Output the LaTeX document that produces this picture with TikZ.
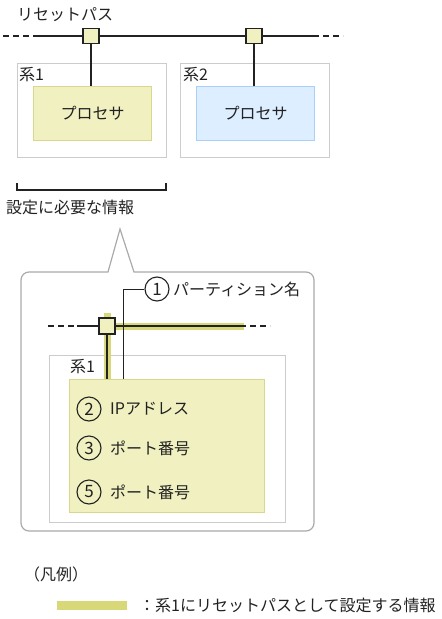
\documentclass[tikz,border=0pt]{standalone}
\usepackage{fontspec}
\setmainfont{Noto Sans CJK JP}
\definecolor{ybox}{RGB}{240,240,192}
\definecolor{yedge}{RGB}{216,216,140}
\definecolor{yline}{RGB}{216,216,120}
\definecolor{bbox}{RGB}{220,238,255}
\definecolor{bedge}{RGB}{168,208,248}
\definecolor{gedge}{RGB}{204,204,204}
\definecolor{cedge}{RGB}{170,170,170}
\definecolor{ink}{RGB}{34,34,34}
\begin{document}
\begin{tikzpicture}[x=1pt,y=-1pt,
  font=\fontsize{16}{19}\selectfont,
  every node/.style={text=ink},
  sysbox/.style={draw=gedge, line width=1.2pt, fill=white, anchor=north west, inner sep=0pt},
  procY/.style={draw=yedge, fill=ybox, line width=1pt, anchor=north west, inner sep=0pt},
  procB/.style={draw=bedge, fill=bbox, line width=1pt, anchor=north west, inner sep=0pt},
  port/.style={draw=ink, fill=ybox, line width=1.2pt, minimum width=16pt, minimum height=15pt, inner sep=0pt},
  num/.style={circle, draw=ink, line width=1.1pt, minimum size=24pt, inner sep=0pt, font=\fontsize{17}{18}\selectfont},
  txt/.style={inner sep=0pt, anchor=west},
  wire/.style={draw=ink, line width=1.2pt},
  dwire/.style={draw=ink, line width=1.2pt, dash pattern=on 6pt off 4pt},
  hl/.style={draw=yline, line width=7pt},
  callout/.style={draw=cedge, line width=1.2pt, fill=white}
]
\useasboundingbox (0,0) rectangle (442,619);

% ---------- top part ----------
\node[txt] (rtitle) at (17,15) {リセットパス};
\coordinate (busL) at (3,36);
\coordinate (busA) at (33,36);
\coordinate (busB) at (313,36);
\coordinate (busR) at (343,36);
\draw[dwire] (busL) -- (busA);
\draw[wire] (busA) -- (busB);
\draw[dwire] (busB) -- (busR);

\node[sysbox, minimum width=149pt, minimum height=94pt] (s1) at (17,63) {};
\node[txt] (s1lab) at (19,75) {系1};
\node[procY, minimum width=118pt, minimum height=54pt] (p1) at (33,86) {};
\node (p1t) at (p1.center) {プロセサ};

\node[sysbox, minimum width=149pt, minimum height=94pt] (s2) at (180,63) {};
\node[txt] (s2lab) at (183,75) {系2};
\node[procB, minimum width=118pt, minimum height=54pt] (p2) at (196,86) {};
\node (p2t) at (p2.center) {プロセサ};

\node[port] (port1) at (91,36) {};
\node[port] (port2) at (254,36) {};
\draw[wire] (port1.south) -- (port1.south |- p1.north);
\draw[wire] (port2.south) -- (port2.south |- p2.north);

% bracket
\coordinate (brA) at (17,183);
\coordinate (brB) at (17,190);
\coordinate (brC) at (166,190);
\coordinate (brD) at (166,183);
\draw[wire] (brA) -- (brB) -- (brC) -- (brD);
\node[txt] (need) at (6,207) {設定に必要な情報};

% ---------- callout ----------
\coordinate (apex) at (120,229);
\draw[callout] (apex) -- (134,272) [rounded corners=8pt] -- (314,272) -- (314,531) -- (21,531) -- (21,272) [sharp corners] -- (108,272) -- cycle;

\node[sysbox, minimum width=236pt, minimum height=167pt] (s3) at (49,355) {};
\node[txt] (s3lab) at (70,367) {系1};
\node[procY, minimum width=195pt, minimum height=133pt] (p3) at (69,379) {};

% highlighted path
\draw[hl] (107,313) -- (107,379);
\draw[hl] (107,326) -- (244,326);

\coordinate (ibL) at (48,326);
\coordinate (ibA) at (77,326);
\coordinate (ibB) at (240,326);
\coordinate (ibR) at (270,326);
\draw[dwire] (ibL) -- (ibA);
\draw[wire] (ibA) -- (ibB);
\draw[dwire] (ibB) -- (ibR);

\node[port, minimum width=16pt, minimum height=16pt] (port3) at (107,326) {};
\draw[wire] (port3.south) -- (port3.south |- p3.north);

\node[num] (n1) at (157,289) {1};
\node[txt] (n1t) at (173,289) {パーティション名};
\coordinate (elb) at (123,289);
\draw[wire, line width=1pt] (n1.west) -- (elb) -- (elb |- p3.north);

\node[num] (n2) at (89,409) {2};
\node[txt] (n2t) at (110,409) {IPアドレス};
\node[num] (n3) at (89,448) {3};
\node[txt] (n3t) at (110,448) {ポート番号};
\node[num] (n5) at (89,492) {5};
\node[txt] (n5t) at (110,492) {ポート番号};

% ---------- legend ----------
\node[txt] (leg) at (24,574) {（凡例）};
\coordinate (lgA) at (57,605);
\coordinate (lgB) at (127,605);
\draw[draw=yline, line width=9pt] (lgA) -- (lgB);
\node[txt] (legt) at (139,605) {：系1にリセットパスとして設定する情報};
\end{tikzpicture}
\end{document}
